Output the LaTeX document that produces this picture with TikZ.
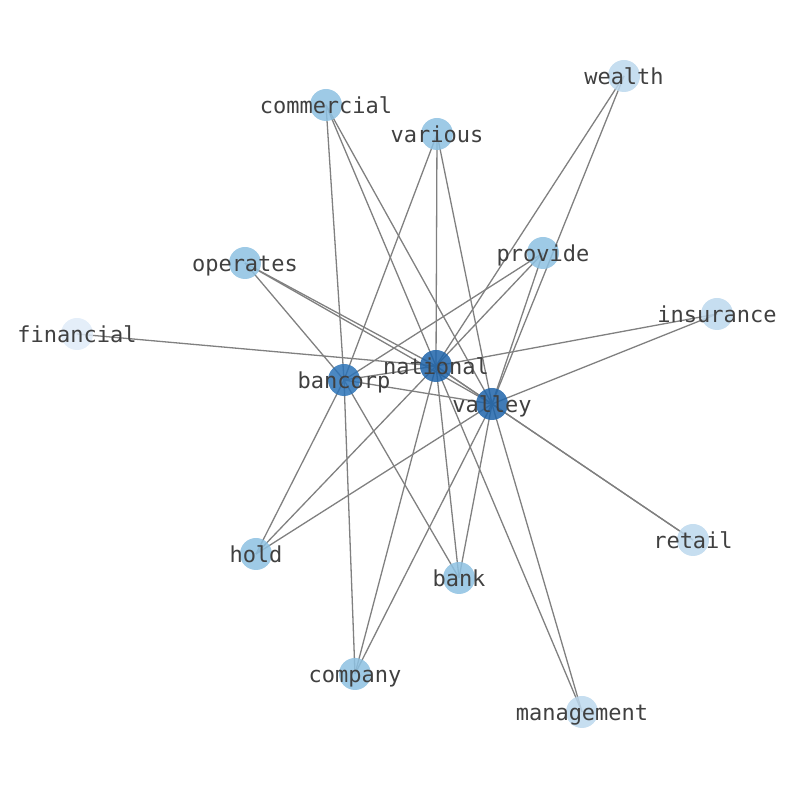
\documentclass[tikz,border=0pt]{standalone}
\usepackage{fontspec}
\newfontfamily\labelfont{DejaVu Sans Mono}
\usepackage{tikz}
\usetikzlibrary{backgrounds}
\definecolor{hubblue}{RGB}{30,100,170}
\definecolor{corpblue}{RGB}{44,115,183}
\definecolor{midblue}{RGB}{141,193,226}
\definecolor{paleblue}{RGB}{188,216,237}
\definecolor{faintblue}{RGB}{223,235,248}
\definecolor{edgegray}{RGB}{128,128,128}
\definecolor{labelgray}{RGB}{64,64,64}

\begin{document}
\begin{tikzpicture}[
			x=0.5pt, y=-0.5pt,
			dot/.style={
				circle,
				inner sep=0pt,
				minimum size=16pt,
				fill opacity=0.85
			},
			lbl/.style={
				text=labelgray,
				inner sep=0pt,
				text height=0.76em,
				text depth=0.24em,
				yshift=-1.5pt,
				font=\labelfont\fontsize{11}{11}\selectfont
			},
			edge/.style={draw=edgegray,line width=0.65pt}
			]
			
			\useasboundingbox (0,0) rectangle (794,790);
			
			% hubs
			\node[dot,fill=hubblue,label={[lbl]center:national}] (national) at (436,366) {};
			\node[dot,fill=corpblue,label={[lbl]center:bancorp}] (bancorp) at (344,380) {};
			\node[dot,fill=hubblue,label={[lbl]center:valley}] (valley) at (492,404) {};
			
			% outer words
			\node[dot,fill=paleblue,label={[lbl]center:wealth}] (wealth) at (624,76) {};
			\node[dot,fill=midblue,label={[lbl]center:commercial}] (commercial) at (326,105) {};
			\node[dot,fill=midblue,label={[lbl]center:various}] (various) at (437,134) {};
			\node[dot,fill=midblue,label={[lbl]center:provide}] (provide) at (543,253) {};
			\node[dot,fill=midblue,label={[lbl]center:operates}] (operates) at (245,263) {};
			\node[dot,fill=paleblue,label={[lbl]center:insurance}] (insurance) at (717,314) {};
			\node[dot,fill=faintblue,label={[lbl]center:financial}] (financial) at (77,334) {};
			\node[dot,fill=paleblue,label={[lbl]center:retail}] (retail) at (693,540) {};
			\node[dot,fill=midblue,label={[lbl]center:hold}] (hold) at (256,554) {};
			\node[dot,fill=midblue,label={[lbl]center:bank}] (bank) at (459,578) {};
			\node[dot,fill=midblue,label={[lbl]center:company}] (company) at (355,674) {};
			\node[dot,fill=paleblue,label={[lbl]center:management}] (management) at (582,712) {};
			
			\begin{scope}[on background layer]
				\draw[edge] (national.center) -- (valley.center);
				\draw[edge] (national.center) -- (bancorp.center);
				\draw[edge] (bancorp.center) -- (valley.center);
				
				\draw[edge] (wealth.center) -- (national.center);
				\draw[edge] (wealth.center) -- (valley.center);
				\draw[edge] (commercial.center) -- (bancorp.center);
				\draw[edge] (commercial.center) -- (national.center);
				\draw[edge] (commercial.center) -- (valley.center);
				\draw[edge] (various.center) -- (bancorp.center);
				\draw[edge] (various.center) -- (national.center);
				\draw[edge] (various.center) -- (valley.center);
				\draw[edge] (provide.center) -- (bancorp.center);
				\draw[edge] (provide.center) -- (national.center);
				\draw[edge] (provide.center) -- (valley.center);
				\draw[edge] (operates.center) -- (bancorp.center);
				\draw[edge] (operates.center) -- (national.center);
				\draw[edge] (operates.center) -- (valley.center);
				\draw[edge] (insurance.center) -- (national.center);
				\draw[edge] (insurance.center) -- (valley.center);
				\draw[edge] (financial.center) -- (national.center);
				\draw[edge] (retail.center) -- (national.center);
				\draw[edge] (retail.center) -- (valley.center);
				\draw[edge] (hold.center) -- (bancorp.center);
				\draw[edge] (hold.center) -- (national.center);
				\draw[edge] (hold.center) -- (valley.center);
				\draw[edge] (bank.center) -- (bancorp.center);
				\draw[edge] (bank.center) -- (national.center);
				\draw[edge] (bank.center) -- (valley.center);
				\draw[edge] (company.center) -- (bancorp.center);
				\draw[edge] (company.center) -- (national.center);
				\draw[edge] (company.center) -- (valley.center);
				\draw[edge] (management.center) -- (national.center);
				\draw[edge] (management.center) -- (valley.center);
			\end{scope}
			
		\end{tikzpicture}
\end{document}
